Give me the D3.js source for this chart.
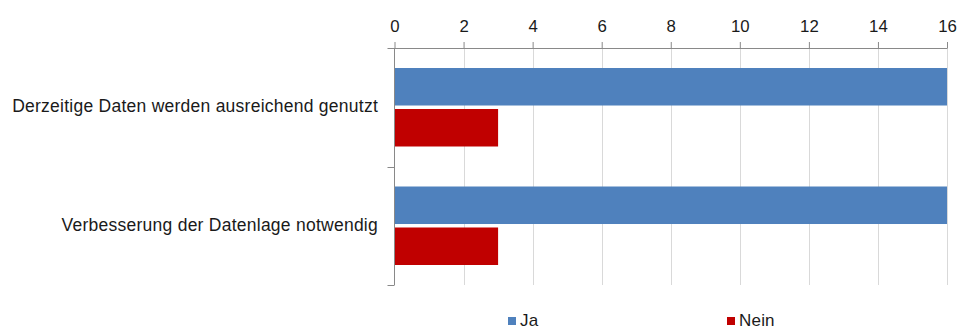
<!DOCTYPE html>
<html>
<head>
<meta charset="utf-8">
<script src="https://cdn.jsdelivr.net/npm/d3@7"></script>
<style>
  html, body { margin: 0; padding: 0; background: #fff; }
  svg { display: block; font-family: "Liberation Sans", Arial, sans-serif; }
</style>
</head>
<body>
<svg id="chart" width="958" height="329"></svg>
<script>
// Survey answers per statement
const categories = ["Derzeitige Daten werden ausreichend genutzt", "Verbesserung der Datenlage notwendig"];
const seriesNames = ["Ja", "Nein"];
const jaValues = [16, 16];
const neinValues = [3, 3];
const xTicks = [0, 2, 4, 6, 8, 10, 12, 14, 16];

const colors = { "Ja": "#4F81BD", "Nein": "#C00000" };
const values = { "Ja": jaValues, "Nein": neinValues };

const svg = d3.select("#chart");
const plot = { left: 394.5, right: 947, top: 48, bottom: 285 };

const x = d3.scaleLinear().domain([0, 16]).range([plot.left, plot.right]);
const y = d3.scaleBand().domain(categories).range([plot.top, plot.bottom]);
const inner = d3.scaleBand().domain(seriesNames)
  .range([20, y.bandwidth() - 20]).paddingInner(0.085);

// vertical gridlines
svg.append("g").selectAll("line")
  .data(xTicks.filter(d => d !== 0))
  .join("line")
  .attr("x1", d => Math.round(x(d)) + 0.5).attr("x2", d => Math.round(x(d)) + 0.5)
  .attr("y1", plot.top).attr("y2", plot.bottom)
  .attr("stroke", "#d9d9d9").attr("stroke-width", 1);

// bars
const groups = svg.append("g").selectAll("g")
  .data(categories)
  .join("g")
  .attr("transform", d => `translate(0,${y(d)})`);

groups.selectAll("rect")
  .data((c, i) => seriesNames.map(s => ({ s, v: values[s][i] })))
  .join("rect")
  .attr("x", x(0))
  .attr("y", d => inner(d.s))
  .attr("width", d => x(d.v) - x(0))
  .attr("height", inner.bandwidth())
  .attr("fill", d => colors[d.s]);

// top value axis
const xAxis = svg.append("g")
  .attr("transform", `translate(0,${plot.top})`)
  .call(d3.axisTop(x).tickValues(xTicks).tickSize(6).tickPadding(10).tickSizeOuter(0));
xAxis.select(".domain").attr("stroke", "#898989");
xAxis.selectAll(".tick line").attr("stroke", "#898989");
xAxis.selectAll(".tick text")
  .attr("font-size", 16.8).attr("fill", "#1a1a1a")
  .attr("font-family", "Liberation Sans, Arial, sans-serif");

// left category axis
const yAxisG = svg.append("g");
yAxisG.append("line")
  .attr("x1", plot.left).attr("x2", plot.left)
  .attr("y1", plot.top).attr("y2", plot.bottom)
  .attr("stroke", "#898989");
const boundaries = [plot.top, y(categories[1]), plot.bottom];
yAxisG.selectAll("line.tk")
  .data(boundaries)
  .join("line").attr("class", "tk")
  .attr("x1", plot.left - 7).attr("x2", plot.left)
  .attr("y1", d => Math.round(d) + 0.5).attr("y2", d => Math.round(d) + 0.5)
  .attr("stroke", "#898989");
yAxisG.selectAll("text")
  .data(categories)
  .join("text")
  .attr("x", 378)
  .attr("y", d => y(d) + y.bandwidth() / 2 + 5)
  .attr("text-anchor", "end")
  .attr("font-size", 17.5)
  .attr("letter-spacing", 0.25)
  .attr("fill", "#1a1a1a")
  .text(d => d);

// legend
const legendX = { "Ja": 508, "Nein": 727 };
const legend = svg.append("g").selectAll("g")
  .data(seriesNames)
  .join("g")
  .attr("transform", d => `translate(${legendX[d]},317)`);
legend.append("rect")
  .attr("width", 8).attr("height", 8)
  .attr("fill", d => colors[d]);
legend.append("text")
  .attr("x", 12).attr("y", 8.5)
  .attr("font-size", 17)
  .attr("letter-spacing", 0.2)
  .attr("fill", "#1a1a1a")
  .text(d => d);
</script>
</body>
</html>
